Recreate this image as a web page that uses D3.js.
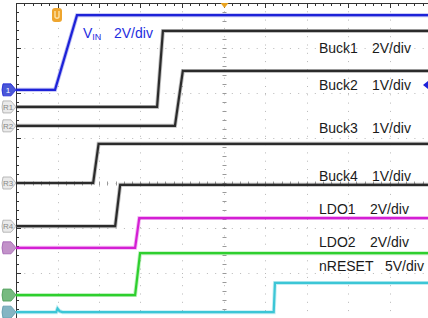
<!DOCTYPE html>
<html>
<head>
    <title>Power-up sequence</title>
    <script src="https://cdnjs.cloudflare.com/ajax/libs/d3/7.8.5/d3.min.js"></script>
    <style>
        body { margin: 0; background: #fff; }
        svg { display: block; font-family: Arial, "Liberation Sans", sans-serif; }
    </style>
</head>
<body>
    <div id="chart"></div>
    <script>
        // time in divisions (0..10), level in divisions from centre line (+ up)
        const vinTime = [0, 0.94, 1.47, 10];
        const vinLevel = [2.07, 2.07, 3.73, 3.73];
        const buck1Time = [0, 3.40, 3.54, 10];
        const buck1Level = [1.69, 1.69, 3.38, 3.38];
        const buck2Time = [0, 3.83, 4.02, 10];
        const buck2Level = [1.27, 1.27, 2.49, 2.49];
        const buck3Time = [0, 1.86, 1.99, 10];
        const buck3Level = [0.0, 0.0, 0.87, 0.87];
        const buck4Time = [0, 2.39, 2.51, 10];
        const buck4Level = [-0.96, -0.96, -0.04, -0.04];
        const ldo1Time = [0, 2.87, 2.97, 10];
        const ldo1Level = [-1.44, -1.44, -0.78, -0.78];
        const ldo2Time = [0, 2.87, 2.99, 10];
        const ldo2Level = [-2.49, -2.49, -1.56, -1.56];
        const nresetTime = [0, 0.97, 1.0, 1.05, 1.12, 6.21, 6.24, 10];
        const nresetLevel = [-2.87, -2.87, -2.79, -2.85, -2.87, -2.87, -2.22, -2.22];

        const labels = ["Buck1", "Buck2", "Buck3", "Buck4", "LDO1", "LDO2", "nRESET"];
        const scales = ["2V/div", "1V/div", "1V/div", "1V/div", "2V/div", "2V/div", "5V/div"];
        const labelLevel = [2.88, 2.07, 1.11, 0.04, -0.69, -1.42, -1.95];

        const W = 428, H = 318;
        const x = d3.scaleLinear().domain([0, 10]).range([16, 431]);
        const y = d3.scaleLinear().domain([-4, 4]).range([363, 3]);

        const svg = d3.select('#chart').append('svg')
            .attr('width', W).attr('height', H);

        // grid
        const grid = svg.append('g').attr('stroke', '#b8b8b8').attr('stroke-width', 1)
            .attr('stroke-dasharray', '1,7.3');
        grid.selectAll('line.v').data(d3.range(1, 10)).join('line')
            .attr('x1', d => Math.round(x(d)) + 0.5).attr('x2', d => Math.round(x(d)) + 0.5)
            .attr('y1', y(4)).attr('y2', H);
        grid.selectAll('line.h').data(d3.range(-3, 4)).join('line')
            .attr('class', 'h')
            .attr('y1', d => Math.round(y(d)) + 0.5).attr('y2', d => Math.round(y(d)) + 0.5)
            .attr('x1', x(0)).attr('x2', W);

        // centre axes minor ticks
        const minor = svg.append('g').attr('stroke', '#9a9a9a').attr('stroke-width', 1);
        const xc = Math.round(x(5)) + 0.5, yc = Math.round(y(0)) + 0.5;
        minor.selectAll('line.mx').data(d3.range(0, 10.01, 0.2)).join('line')
            .attr('x1', d => Math.round(x(d)) + 0.5).attr('x2', d => Math.round(x(d)) + 0.5)
            .attr('y1', yc - 2).attr('y2', yc + 2);
        minor.selectAll('line.my').data(d3.range(-4, 4.01, 0.2)).join('line')
            .attr('class', 'my')
            .attr('y1', d => Math.round(y(d)) + 0.5).attr('y2', d => Math.round(y(d)) + 0.5)
            .attr('x1', xc - 2).attr('x2', xc + 2);

        // frame (top + left) with ticks
        const frame = svg.append('g').attr('stroke', '#333').attr('stroke-width', 1);
        frame.append('line').attr('x1', x(0)).attr('x2', W).attr('y1', 3.5).attr('y2', 3.5);
        frame.append('line').attr('x1', 16.5).attr('x2', 16.5).attr('y1', 3).attr('y2', H);
        frame.selectAll('line.tt').data(d3.range(0, 10.01, 0.2)).join('line')
            .attr('class', 'tt')
            .attr('x1', d => Math.round(x(d)) + 0.5).attr('x2', d => Math.round(x(d)) + 0.5)
            .attr('y1', 3).attr('y2', d => Math.abs(d - Math.round(d)) < 0.01 ? 8 : 6);
        frame.selectAll('line.lt').data(d3.range(-4, 4.01, 0.2)).join('line')
            .attr('class', 'lt')
            .attr('y1', d => Math.round(y(d)) + 0.5).attr('y2', d => Math.round(y(d)) + 0.5)
            .attr('x1', 16).attr('x2', d => Math.abs(d - Math.round(d)) < 0.01 ? 21 : 19);

        // traces
        const traces = [
            { t: nresetTime, v: nresetLevel, c: '#3cc6d6' },
            { t: ldo2Time, v: ldo2Level, c: '#2ecf2e' },
            { t: ldo1Time, v: ldo1Level, c: '#d41fd4' },
            { t: buck4Time, v: buck4Level, c: '#2b2b2b' },
            { t: buck3Time, v: buck3Level, c: '#2b2b2b' },
            { t: buck2Time, v: buck2Level, c: '#2b2b2b' },
            { t: buck1Time, v: buck1Level, c: '#2b2b2b' },
            { t: vinTime, v: vinLevel, c: '#1d22d8' }
        ];
        const line = d3.line().x(d => x(d[0])).y(d => y(d[1]));
        traces.forEach(tr => {
            const pts = tr.t.map((t, i) => [t, tr.v[i]]);
            svg.append('path').datum(pts)
                .attr('fill', 'none').attr('stroke', tr.c)
                .attr('stroke-width', 4).attr('stroke-opacity', 0.3)
                .attr('d', line);
            svg.append('path').datum(pts)
                .attr('fill', 'none').attr('stroke', tr.c)
                .attr('stroke-width', 2.2)
                .attr('d', line);
        });

        // left channel markers
        const markers = [
            { lv: vinLevel[0], fill: '#2a3ad0', stroke: '#1d22d8', txt: '1', tc: '#fff' },
            { lv: buck1Level[0], fill: '#e6e6e6', stroke: '#aaa', txt: 'R1', tc: '#888' },
            { lv: buck2Level[0], fill: '#e6e6e6', stroke: '#aaa', txt: 'R2', tc: '#888' },
            { lv: buck3Level[0], fill: '#e6e6e6', stroke: '#aaa', txt: 'R3', tc: '#888' },
            { lv: buck4Level[0], fill: '#e6e6e6', stroke: '#aaa', txt: 'R4', tc: '#888' },
            { lv: ldo1Level[0], fill: '#b77fc0', stroke: '#a060b0', txt: '', tc: '#fff' },
            { lv: ldo2Level[0], fill: '#5fae6a', stroke: '#4a9a55', txt: '', tc: '#fff' },
            { lv: nresetLevel[0], fill: '#6fa8b8', stroke: '#5a98aa', txt: '', tc: '#fff' }
        ];
        markers.forEach(m => {
            const cy = y(m.lv);
            svg.append('path')
                .attr('d', `M3,${cy - 6} L11,${cy - 6} L16,${cy} L11,${cy + 6} L3,${cy + 6} Q1,${cy} 3,${cy - 6}Z`)
                .attr('fill', m.fill).attr('stroke', m.stroke).attr('stroke-width', 0.8)
                .attr('fill-opacity', 0.85);
            svg.append('text').attr('x', 8).attr('y', cy + 3)
                .attr('text-anchor', 'middle').attr('font-size', 8)
                .attr('fill', m.tc).text(m.txt);
        });

        // trigger markers
        svg.append('rect').attr('x', 52).attr('y', 8).attr('width', 10).attr('height', 14)
            .attr('rx', 3).attr('fill', '#eea52e');
        svg.append('path').attr('d', 'M55,11 L55,17 Q57,19.5 59,17 L59,11')
            .attr('fill', 'none').attr('stroke', '#fbe1a8').attr('stroke-width', 1.4);
        svg.append('path').attr('d', `M${xc - 4},3 L${xc + 4},3 L${xc},8 Z`).attr('fill', '#e9a320');
        svg.append('path').attr('d', `M428,${y(2.18) - 4} L423,${y(2.18)} L428,${y(2.18) + 4} Z`)
            .attr('fill', '#1d22d8');

        // channel labels
        const lab = svg.append('g').attr('font-size', 14).attr('fill', '#1a1a1a');
        lab.selectAll('text.n').data(labels).join('text')
            .attr('class', 'n').attr('x', 319).attr('y', (d, i) => y(labelLevel[i]))
            .text(d => d);
        lab.selectAll('text.s').data(scales).join('text')
            .attr('class', 's')
            .attr('x', (d, i) => labels[i] === 'nRESET' ? 385 : (labels[i].startsWith('LDO') ? 370 : 372))
            .attr('y', (d, i) => y(labelLevel[i]))
            .text(d => d);

        const vin = svg.append('text').attr('x', 83).attr('y', 38)
            .attr('font-size', 14).attr('fill', '#1f2ee0');
        vin.append('tspan').text('V');
        vin.append('tspan').attr('font-size', 9).attr('dy', 2).text('IN');
        vin.append('tspan').attr('dy', -2).attr('x', 114).text('2V/div');
    </script>
</body>
</html>
